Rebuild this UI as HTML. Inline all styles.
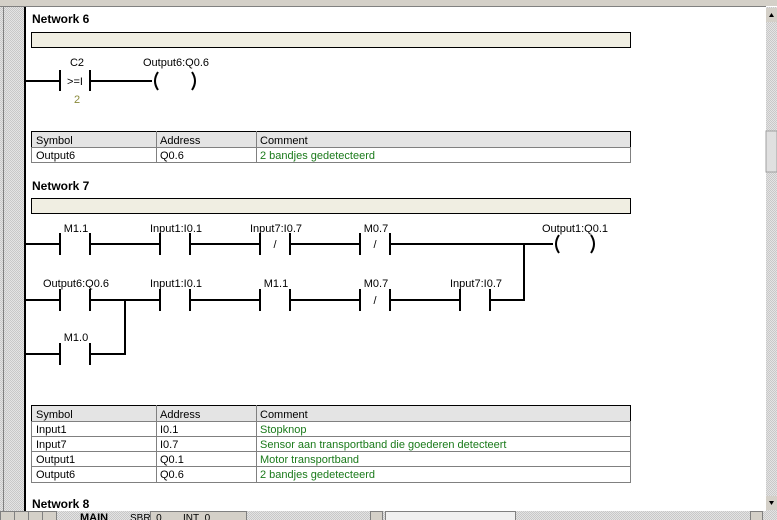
<!DOCTYPE html>
<html><head><meta charset="utf-8"><style>
html,body{margin:0;padding:0;width:777px;height:520px;overflow:hidden;background:#fff}
svg{display:block}
text{font-family:"Liberation Sans",sans-serif;font-size:11px;fill:#000}
.b{font-weight:bold;font-size:12px}
.g{fill:#1a7a1a}
</style></head><body>
<svg width="777" height="520" viewBox="0 0 777 520" xmlns="http://www.w3.org/2000/svg">
<defs>
<pattern id="h" width="2" height="2" patternUnits="userSpaceOnUse"><rect width="2" height="2" fill="#e4e4e4"/><rect width="1" height="1" fill="#c8c8c8"/><rect x="1" y="1" width="1" height="1" fill="#c8c8c8"/></pattern>
</defs>
<rect x="0" y="0" width="777" height="6" fill="#d4d0c8"/>
<line x1="0" y1="6.5" x2="766" y2="6.5" stroke="#808080"/>
<rect x="0" y="7" width="24" height="504" fill="url(#h)"/>
<line x1="3.5" y1="7" x2="3.5" y2="511" stroke="#808080"/>
<rect x="24" y="7" width="2" height="504" fill="#000"/>
<rect x="766" y="7" width="11" height="504" fill="url(#h)"/>
<rect x="766" y="8" width="11" height="14" fill="#d4d0c8"/>
<path d="M769 17 L771.5 13 L774 17Z" fill="#000"/>
<rect x="766" y="131" width="11" height="41" fill="#e0e0e0" stroke="#a0a0a0"/>
<rect x="766" y="496" width="11" height="14" fill="#d4d0c8"/>
<path d="M769 501 L774 501 L771.5 505Z" fill="#000"/>

<g stroke="#000" fill="none">
<!-- Network 6 -->
<rect x="31.5" y="32.5" width="599" height="15" fill="#f0eee2"/>
<path d="M26 81H60M90 81H152" stroke-width="2"/>
<path d="M60 70V91M90 70V91" stroke-width="2"/>
<path d="M158 72Q152 81 158 90M192 72Q198 81 192 90" stroke-width="2"/>
<!-- Network 7 -->
<rect x="31.5" y="198.5" width="599" height="15" fill="#f0eee2"/>
<g stroke-width="2">
<path d="M26 244H60M90 244H160M190 244H260M290 244H360M390 244H553"/>
<path d="M60 233V255M90 233V255M160 233V255M190 233V255M260 233V255M290 233V255M360 233V255M390 233V255"/>
<path d="M559 235Q553 244 559 253M591 235Q597 244 591 253"/>
<path d="M26 300H60M90 300H160M190 300H260M290 300H360M390 300H460M490 300H524V244"/>
<path d="M60 289V311M90 289V311M160 289V311M190 289V311M260 289V311M290 289V311M360 289V311M390 289V311M460 289V311M490 289V311"/>
<path d="M26 354H60M90 354H125V300"/>
<path d="M60 343V365M90 343V365"/>
</g>
</g>
<text x="32" y="23" class="b">Network 6</text>
<text x="77" y="66" text-anchor="middle">C2</text>
<text x="75" y="85" text-anchor="middle">&gt;=I</text>
<text x="77" y="103" text-anchor="middle" fill="#8a8a3a" style="fill:#8a8a3a">2</text>
<text x="176" y="66" text-anchor="middle">Output6:Q0.6</text>

<text x="32" y="190" class="b">Network 7</text>
<text x="76" y="232" text-anchor="middle">M1.1</text>
<text x="176" y="232" text-anchor="middle">Input1:I0.1</text>
<text x="276" y="232" text-anchor="middle">Input7:I0.7</text>
<text x="275" y="248" text-anchor="middle">/</text>
<text x="376" y="232" text-anchor="middle">M0.7</text>
<text x="375" y="248" text-anchor="middle">/</text>
<text x="575" y="232" text-anchor="middle">Output1:Q0.1</text>
<text x="76" y="287" text-anchor="middle">Output6:Q0.6</text>
<text x="176" y="287" text-anchor="middle">Input1:I0.1</text>
<text x="276" y="287" text-anchor="middle">M1.1</text>
<text x="376" y="287" text-anchor="middle">M0.7</text>
<text x="375" y="304" text-anchor="middle">/</text>
<text x="476" y="287" text-anchor="middle">Input7:I0.7</text>
<text x="76" y="341" text-anchor="middle">M1.0</text>

<!-- table 1 -->
<g stroke="#808080" fill="none">
<rect x="31.5" y="131.5" width="599" height="16" fill="#e4e4e4" stroke="#000"/>
<rect x="31.5" y="147.5" width="599" height="15"/>
<path d="M156.5 131V163M256.5 131V163"/>
</g>
<text x="36" y="144">Symbol</text><text x="160" y="144">Address</text><text x="260" y="144">Comment</text>
<text x="36" y="159">Output6</text><text x="160" y="159">Q0.6</text><text x="260" y="159" class="g">2 bandjes gedetecteerd</text>

<!-- table 2 -->
<g stroke="#808080" fill="none">
<rect x="31.5" y="405.5" width="599" height="16" fill="#e4e4e4" stroke="#000"/>
<rect x="31.5" y="421.5" width="599" height="61"/>
<path d="M31 436.5H631M31 451.5H631M31 466.5H631M156.5 405V483M256.5 405V483"/>
</g>
<text x="36" y="418">Symbol</text><text x="160" y="418">Address</text><text x="260" y="418">Comment</text>
<text x="36" y="433">Input1</text><text x="160" y="433">I0.1</text><text x="260" y="433" class="g">Stopknop</text>
<text x="36" y="448">Input7</text><text x="160" y="448">I0.7</text><text x="260" y="448" class="g">Sensor aan transportband die goederen detecteert</text>
<text x="36" y="463">Output1</text><text x="160" y="463">Q0.1</text><text x="260" y="463" class="g">Motor transportband</text>
<text x="36" y="478">Output6</text><text x="160" y="478">Q0.6</text><text x="260" y="478" class="g">2 bandjes gedetecteerd</text>

<text x="32" y="508" class="b">Network 8</text>

<!-- bottom tabs -->
<rect x="0" y="511" width="777" height="9" fill="url(#h)"/>
<g fill="#d4d0c8" stroke="#808080">
<rect x="0.5" y="511.5" width="14" height="9"/><rect x="14.5" y="511.5" width="14" height="9"/><rect x="28.5" y="511.5" width="14" height="9"/><rect x="42.5" y="511.5" width="14" height="9"/>
<rect x="150.5" y="511.5" width="96" height="9"/>
<rect x="370.5" y="511.5" width="12" height="9"/>
<rect x="385.5" y="511.5" width="130" height="9" fill="#f0f0f0"/>
<rect x="750.5" y="511.5" width="12" height="9"/>
</g>
<text x="80" y="521" style="font-size:11px;font-weight:bold">MAIN</text>
<text x="130" y="521" style="font-size:10px">SBR_0</text>
<text x="183" y="521" style="font-size:10px">INT_0</text>
</svg>
</body></html>
